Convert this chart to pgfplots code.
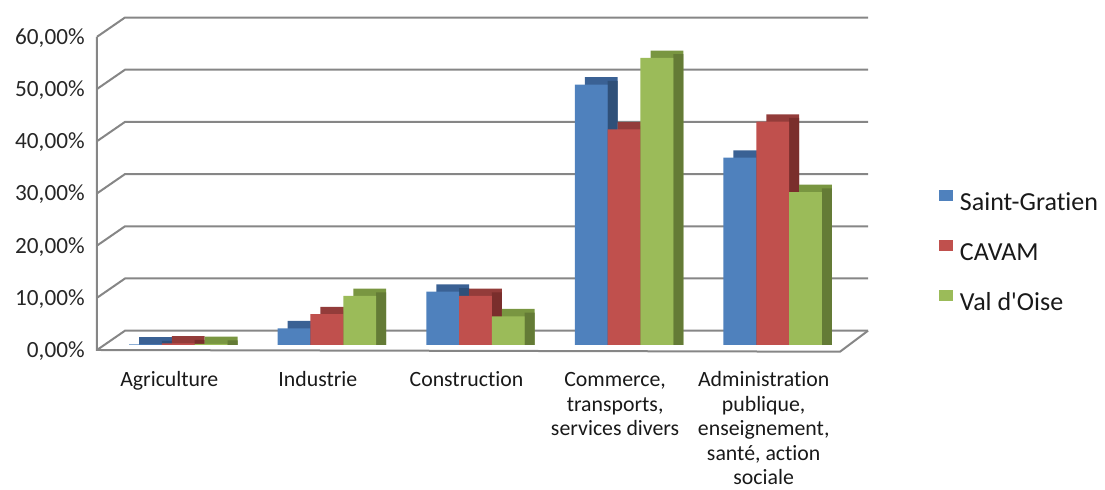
\documentclass[border=0pt]{standalone}
\usepackage{pgfplots}
\pgfplotsset{compat=1.18}
\usepackage{pgfplotstable}
\usepackage{fontspec}
\setmainfont{Carlito}[Ligatures={TeXOff,NoCommon}]
\definecolor{cB}{HTML}{4F81BD}
\definecolor{cR}{HTML}{C0504D}
\definecolor{cG}{HTML}{9BBB59}
\definecolor{cBt}{HTML}{3A6194}
\definecolor{cBs}{HTML}{2F5079}
\definecolor{cRt}{HTML}{933C3A}
\definecolor{cRs}{HTML}{7A2E2C}
\definecolor{cGt}{HTML}{799641}
\definecolor{cGs}{HTML}{647B36}
\definecolor{gridc}{HTML}{868686}

\pgfplotstableread{
x sg cavam vo
0 0.1 0.3 0.2
1 3.2 5.9 9.4
2 10.2 9.4 5.5
3 49.9 41.3 55.0
4 35.9 42.8 29.3
}\data

\begin{document}
\begin{tikzpicture}
\begin{axis}[
  name=ax,
  scale only axis,
  width=371.5pt, height=156.6pt,
  xmin=-0.5, xmax=4.5, ymin=0, ymax=60,
  clip=false,
  axis line style={draw=none},
  major tick length=0pt,
  xtick={0,1,2,3,4},
  xticklabels={
    {\begin{tabular}{@{}c@{}}Agriculture\end{tabular}},
    {\begin{tabular}{@{}c@{}}Industrie\end{tabular}},
    {\begin{tabular}{@{}c@{}}Construction\end{tabular}},
    {\begin{tabular}{@{}c@{}}Commerce,\\transports,\\services divers\end{tabular}},
    {\begin{tabular}{@{}c@{}}Administration\\publique,\\enseignement,\\santé, action\\sociale\end{tabular}}
  },
  xticklabel style={font=\fontsize{10.9}{12.25}\selectfont, anchor=north, inner sep=0pt, yshift=-12.2pt, xshift=-4.5pt, text=black!90},
  ytick={0,10,20,30,40,50,60},
  /pgf/number format/assume math mode=true,
  yticklabel={\pgfmathprintnumber[fixed,fixed zerofill,precision=2,use comma]{\tick}\%},
  yticklabel style={font=\fontsize{11.6}{13.6}\selectfont, anchor=east, inner sep=0pt, xshift=-9.5pt, yshift=-3pt, text=black!85},
  legend style={at={(1.1238,0.3033)}, anchor=west, draw=none, fill=none, inner sep=0pt, outer sep=0pt,
    font=\fontsize{13}{15.6}\selectfont, row sep=14.5pt, column sep=3.5pt,
    nodes={inner sep=0pt, text height=9pt, text depth=0pt, text=black!90}},
  legend cell align=left,
]
% 3D box: floor, left wall and back wall grid lines
\pgfplotsinvokeforeach{0,10,20,30,40,50,60}{
  \draw[gridc, line width=1pt] ([shift={(-3.5pt,-2.5pt)}]axis cs:-0.5,#1) -- ([shift={(10.5pt,7.15pt)}]axis cs:-0.5,#1) -- ([shift={(10.5pt,7.15pt)}]axis cs:4.5,#1);
}
\draw[gridc, line width=1pt] ([shift={(-3.5pt,-2.5pt)}]axis cs:-0.5,60) -- ([shift={(-3.5pt,-2.5pt)}]axis cs:-0.5,0) -- ([shift={(-3.5pt,-3.35pt)}]axis cs:4.5,0) -- ([shift={(10.5pt,7.15pt)}]axis cs:4.5,0);

% depth faces (top then side) of the bars
\addplot[ybar, bar width=16.4pt, bar shift=-11.4pt, fill=cBt, draw=none, forget plot] table[x=x, y expr=\thisrow{sg}+1.4] {\data};
\addplot[ybar, bar width=5pt, bar shift=-5.7pt, fill=cBs, draw=none, forget plot] table[x=x, y expr=\thisrow{sg}+0.7] {\data};
\addplot[ybar, bar width=16.4pt, bar shift=5pt, fill=cRt, draw=none, forget plot] table[x=x, y expr=\thisrow{cavam}+1.4] {\data};
\addplot[ybar, bar width=5pt, bar shift=10.7pt, fill=cRs, draw=none, forget plot] table[x=x, y expr=\thisrow{cavam}+0.7] {\data};
\addplot[ybar, bar width=16.4pt, bar shift=21.4pt, fill=cGt, draw=none, forget plot] table[x=x, y expr=\thisrow{vo}+1.4] {\data};
\addplot[ybar, bar width=5pt, bar shift=27.1pt, fill=cGs, draw=none, forget plot] table[x=x, y expr=\thisrow{vo}+0.7] {\data};

% front faces
\addplot[ybar, bar width=16.4pt, bar shift=-16.4pt, fill=cB, draw=none,
  legend image code/.code={\fill[cB] (0pt,0.5pt) rectangle (7pt,6pt);}] table[x=x, y=sg] {\data};
\addlegendentry{Saint-Gratien}
\addplot[ybar, bar width=16.4pt, bar shift=0pt, fill=cR, draw=none,
  legend image code/.code={\fill[cR] (0pt,0.5pt) rectangle (7pt,6pt);}] table[x=x, y=cavam] {\data};
\addlegendentry{CAVAM}
\addplot[ybar, bar width=16.4pt, bar shift=16.4pt, fill=cG, draw=none,
  legend image code/.code={\fill[cG] (0pt,0.5pt) rectangle (7pt,6pt);}] table[x=x, y=vo] {\data};
\addlegendentry{Val d\textquotesingle Oise}
\end{axis}
\pgfresetboundingbox
\path[use as bounding box] ([shift={(-52pt,-72.5pt)}]ax.south west) rectangle ([shift={(500.5pt,172.5pt)}]ax.south west);
\end{tikzpicture}
\end{document}
